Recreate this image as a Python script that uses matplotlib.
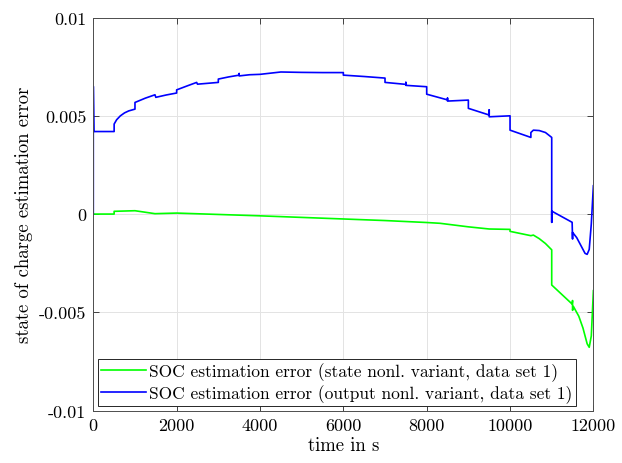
import numpy as np
import matplotlib
matplotlib.use("Agg")
import matplotlib.pyplot as plt

# SOC estimation error over time, two filter variants (data set 1)
t_out = [0, 0, 15, 500, 500, 560, 650, 750, 850, 1000, 1000, 1250, 1480, 1500,
         1750, 2000, 2000, 2250, 2480, 2500, 3000, 3000, 3250, 3500, 3500, 3500,
         3750, 4000, 4250, 4500, 5000, 5500, 6000, 6000, 6500, 7000, 7000, 7500,
         7500, 7500, 8000, 8000, 8500, 8500, 8500, 9000, 9000, 9500, 9500, 9500,
         10000, 10000, 10500, 10500, 10560, 10700, 10850, 11000, 11000, 11000,
         11490, 11500, 11500, 11600, 11700, 11800, 11850, 11900, 11950, 12000]
err_out = [0, 0.0065, 0.0042, 0.0042, 0.00458, 0.0048, 0.0050, 0.00515, 0.00525,
           0.00534, 0.00568, 0.0059, 0.00607, 0.00594, 0.00606, 0.00616, 0.00632,
           0.00652, 0.0067, 0.00661, 0.0067, 0.00687, 0.00698, 0.00707, 0.00715,
           0.00703, 0.00709, 0.00711, 0.00717, 0.00723, 0.00721, 0.0072, 0.0072,
           0.00707, 0.007, 0.00692, 0.0067, 0.0066, 0.0067, 0.00655, 0.00648,
           0.0061, 0.00581, 0.0059, 0.00575, 0.0058, 0.00538, 0.00504, 0.0053,
           0.00495, 0.005, 0.00427, 0.0039, 0.00415, 0.00427, 0.00425, 0.00415,
           0.0039, -0.00042, 0.00015, -0.00042, -0.00127, -0.00093, -0.0012,
           -0.0016, -0.002, -0.00205, -0.0018, -0.0005, 0.00144]

t_state = [0, 500, 500, 1000, 1480, 2000, 3000, 4000, 5000, 6000, 7000, 8000,
           8320, 9000, 9500, 10000, 10000, 10500, 10560, 10700, 10850, 11000,
           11000, 11490, 11500, 11500, 11520, 11650, 11750, 11850, 11900, 11950,
           12000]
err_state = [0, 0, 0.00014, 0.00017, 0.00002, 0.00005, -0.00002, -0.00009,
             -0.00017, -0.00025, -0.00033, -0.00043, -0.00047, -0.00065,
             -0.00076, -0.00078, -0.00088, -0.0011, -0.00107, -0.00125, -0.0015,
             -0.00182, -0.00361, -0.00458, -0.0044, -0.0049, -0.0047, -0.0052,
             -0.0058, -0.0066, -0.00678, -0.0062, -0.0039]

xticks = [0, 2000, 4000, 6000, 8000, 10000, 12000]
yticks = [-0.01, -0.005, 0, 0.005, 0.01]
ytick_labels = ["-0.01", "-0.005", "0", "0.005", "0.01"]

plt.rcParams["font.family"] = ["cmr10", "DejaVu Serif"]
plt.rcParams["font.size"] = 13

fig = plt.figure(figsize=(6.22, 4.64), dpi=100)
ax = fig.add_axes([0.150, 0.113, 0.804, 0.847])

ax.plot(t_state, err_state, color=(0, 1, 0), linewidth=1.2,
        label="SOC estimation error (state nonl. variant, data set 1)")
ax.plot(t_out, err_out, color=(0, 0, 1), linewidth=1.2,
        label="SOC estimation error (output nonl. variant, data set 1)")

ax.set_xlim(0, 12000)
ax.set_ylim(-0.01, 0.01)
ax.set_xticks(xticks)
ax.set_xticklabels([str(x) for x in xticks])
ax.set_yticks(yticks)
ax.set_yticklabels(ytick_labels)
ax.grid(True, color="#e3e3e3", linewidth=0.7)
ax.set_axisbelow(True)
ax.tick_params(direction="in", length=4, width=0.6, top=True, right=True,
               colors="0.15", labelcolor="black", pad=5)
for s in ax.spines.values():
    s.set_color("0.3")
    s.set_linewidth(0.7)

ax.set_xlabel("time in s", fontsize=13.5, labelpad=2)
ax.set_ylabel("state of charge estimation error", fontsize=13.5, labelpad=4)

leg = ax.legend(loc="lower left", fontsize=12.5, handlelength=2.6,
                handletextpad=0.15, borderpad=0.2, borderaxespad=0.25,
                labelspacing=0.15, fancybox=False, framealpha=1)
leg.get_frame().set_edgecolor("0.15")
leg.get_frame().set_linewidth(0.7)

fig.savefig("out.png", dpi=100)
